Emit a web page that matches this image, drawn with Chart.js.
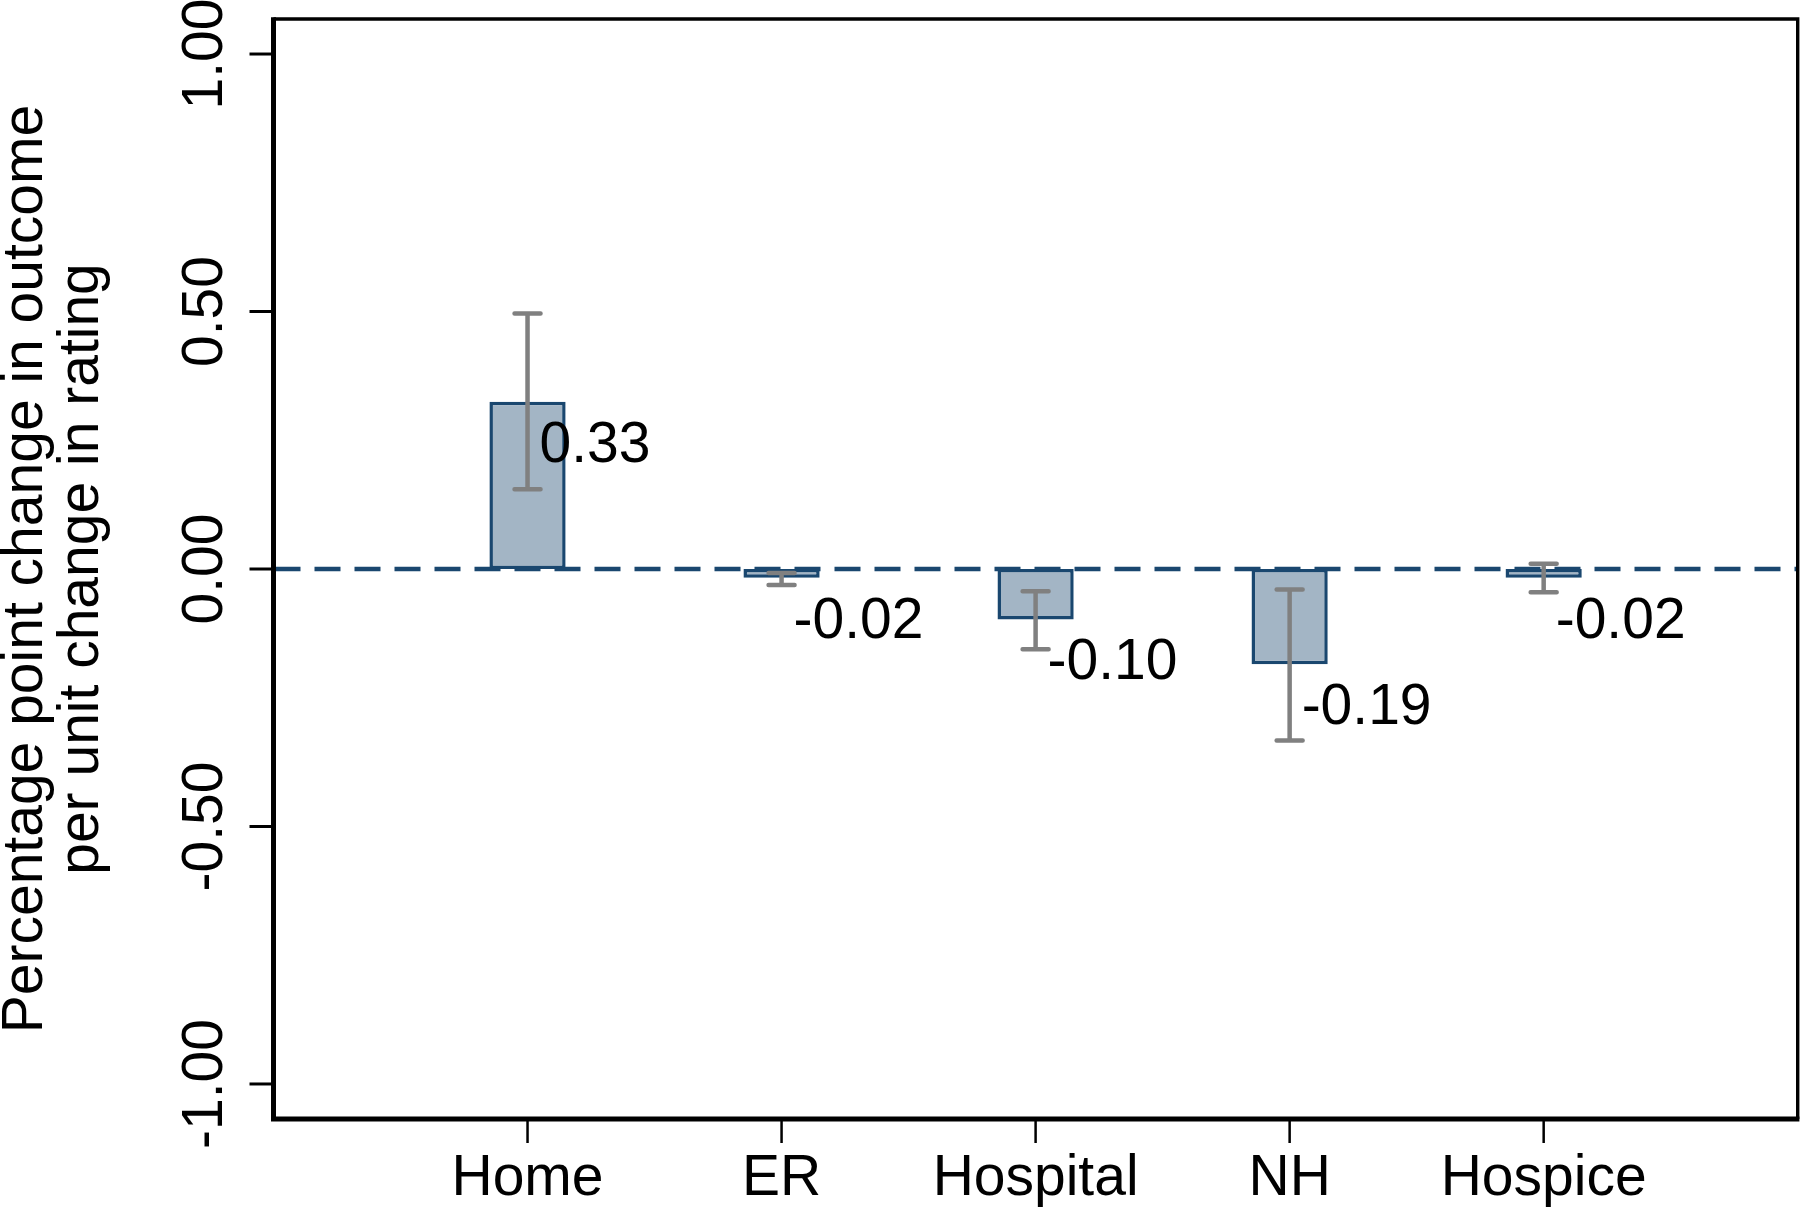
<!DOCTYPE html>
<html>
<head>
<meta charset="utf-8">
<script src="https://cdn.jsdelivr.net/npm/chart.js@4.4.1/dist/chart.umd.min.js"></script>
<style>
html,body{margin:0;padding:0;background:#ffffff;}
canvas{display:block;}
</style>
</head>
<body>
<canvas id="c" width="1800" height="1207"></canvas>
<script>
// ---- data ----
const categories = ['Home', 'ER', 'Hospital', 'NH', 'Hospice'];
const estimates  = [0.325, -0.017, -0.098, -0.185, -0.017];
const ciLower    = [0.155, -0.031, -0.156, -0.333, -0.045];
const ciUpper    = [0.496, -0.008, -0.043, -0.040, 0.010];
const valueLabels = ['0.33', '-0.02', '-0.10', '-0.19', '-0.02'];
const yTicks = [-1, -0.5, 0, 0.5, 1];
const yTickLabels = ['-1.00', '-0.50', '0.00', '0.50', '1.00'];
const yTitle = ['Percentage point change in outcome', 'per unit change in rating'];
const yMin = -1.068, yMax = 1.068;

// empty slots on both ends give the axis its outer margins
const axisLabels = [''].concat(categories, ['']);
const axisData = [null].concat(estimates, [null]);

const FONT = '57px "Liberation Sans", Arial, Helvetica, sans-serif';
const NAVY = '#1a476f';

const decor = {
  id: 'decor',
  afterDatasetsDraw(chart) {
    const {ctx, chartArea: a, scales: {x, y}} = chart;
    ctx.save();
    // dashed zero reference line
    const y0 = y.getPixelForValue(0);
    ctx.strokeStyle = NAVY;
    ctx.lineWidth = 4.5;
    ctx.setLineDash([26, 14]);
    ctx.beginPath();
    ctx.moveTo(a.left + 1, y0);
    ctx.lineTo(a.right, y0);
    ctx.stroke();
    ctx.setLineDash([]);

    // confidence intervals
    ctx.strokeStyle = '#808080';
    ctx.lineWidth = 4.5;
    ctx.lineCap = 'round';
    categories.forEach((c, i) => {
      const px = x.getPixelForValue(i + 1);
      const yl = y.getPixelForValue(ciLower[i]);
      const yu = y.getPixelForValue(ciUpper[i]);
      ctx.beginPath();
      ctx.moveTo(px, yl); ctx.lineTo(px, yu);
      ctx.moveTo(px - 13, yl); ctx.lineTo(px + 13, yl);
      ctx.moveTo(px - 13, yu); ctx.lineTo(px + 13, yu);
      ctx.stroke();
    });

    // value labels
    ctx.fillStyle = '#000';
    ctx.font = FONT;
    ctx.textAlign = 'left';
    ctx.textBaseline = 'alphabetic';
    categories.forEach((c, i) => {
      const px = x.getPixelForValue(i + 1);
      const py = y.getPixelForValue(estimates[i]);
      ctx.fillText(valueLabels[i], px + 12, py + 60);
    });
    ctx.restore();
  },
  afterDraw(chart) {
    const {ctx, chartArea: a, scales: {x, y}} = chart;
    ctx.save();
    ctx.strokeStyle = '#000';
    ctx.lineCap = 'butt';
    // plot region border (thin top/right)
    ctx.lineWidth = 3.4;
    ctx.beginPath();
    ctx.moveTo(a.left, a.top); ctx.lineTo(a.right, a.top); ctx.lineTo(a.right, a.bottom);
    ctx.stroke();
    // axes (thick left/bottom)
    ctx.lineWidth = 5;
    ctx.beginPath();
    ctx.moveTo(a.left, a.top - 1.7); ctx.lineTo(a.left, a.bottom);
    ctx.lineTo(a.right + 1.7, a.bottom);
    ctx.stroke();

    // y ticks and labels
    ctx.lineWidth = 3;
    ctx.fillStyle = '#000';
    ctx.font = FONT;
    yTicks.forEach((v, i) => {
      const py = y.getPixelForValue(v);
      ctx.beginPath();
      ctx.moveTo(a.left - 24, py); ctx.lineTo(a.left, py);
      ctx.stroke();
      ctx.save();
      ctx.translate(a.left - 51.5, py);
      ctx.rotate(-Math.PI / 2);
      ctx.textAlign = 'center';
      ctx.textBaseline = 'alphabetic';
      ctx.fillText(yTickLabels[i], 0, 0);
      ctx.restore();
    });

    // x ticks and labels
    ctx.lineWidth = 2.5;
    categories.forEach((c, i) => {
      const px = x.getPixelForValue(i + 1);
      ctx.beginPath();
      ctx.moveTo(px, a.bottom); ctx.lineTo(px, a.bottom + 24);
      ctx.stroke();
      ctx.textAlign = 'center';
      ctx.textBaseline = 'alphabetic';
      ctx.fillText(c, px, a.bottom + 76);
    });

    // y axis title, two lines, rotated
    const cy = (a.top + a.bottom) / 2;
    const baselines = [42, 98];
    yTitle.forEach((t, i) => {
      ctx.save();
      ctx.translate(baselines[i], cy);
      ctx.rotate(-Math.PI / 2);
      ctx.textAlign = 'center';
      ctx.textBaseline = 'alphabetic';
      ctx.fillText(t, 0, 0);
      ctx.restore();
    });
    ctx.restore();
  }
};

new Chart(document.getElementById('c').getContext('2d'), {
  type: 'bar',
  data: {
    labels: axisLabels,
    datasets: [{
      data: axisData,
      backgroundColor: '#a3b5c5',
      borderColor: NAVY,
      borderWidth: 3.5,
      borderSkipped: false,
      categoryPercentage: 1,
      barPercentage: 0.3
    }]
  },
  options: {
    responsive: false,
    animation: false,
    devicePixelRatio: 1,
    layout: {padding: {left: 273.5, right: 2.3, top: 19, bottom: 88}},
    plugins: {legend: {display: false}, tooltip: {enabled: false}},
    scales: {
      x: {display: false, offset: false},
      y: {display: false, min: yMin, max: yMax}
    }
  },
  plugins: [decor]
});
</script>
</body>
</html>
